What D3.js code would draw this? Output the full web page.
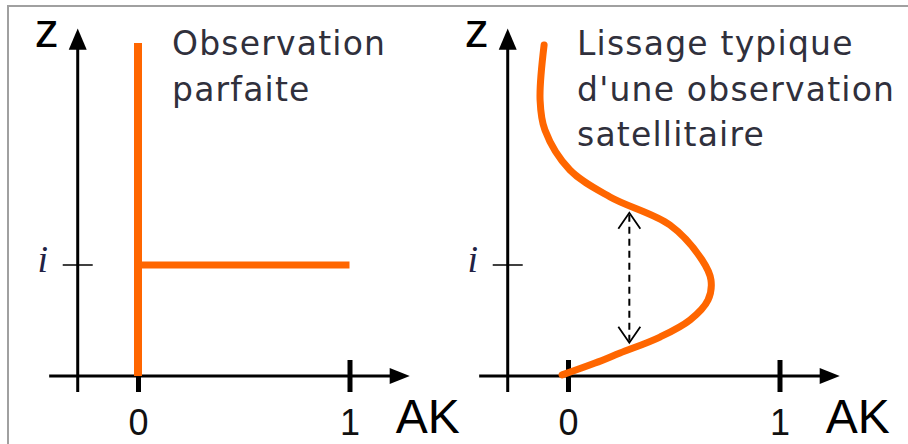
<!DOCTYPE html>
<html>
<head>
<meta charset="utf-8">
<script src="https://cdnjs.cloudflare.com/ajax/libs/d3/7.8.5/d3.min.js"></script>
<style>
  body { margin: 0; background: #fff; }
  svg { display: block; }
</style>
</head>
<body>
<svg width="908" height="444"></svg>
<script>
// ticks on the AK axis and the marked level i
const akTicks = [0, 1];
const levelI = 1;
const levelLabel = "i";

// perfect observation : a single 1 at level i, 0 elsewhere
const perfectVertical = [[0, 0], [0, 3.0]];
const perfectHorizontal = [[0, 1], [1, 1]];

// typical smoothed satellite averaging kernel
const smoothAK = [-0.028, 0.128, 0.246, 0.435, 0.577, 0.662, 0.676, 0.634, 0.482, 0.199, 0.009, -0.109, -0.132, -0.113];
const smoothZ  = [0.01, 0.117, 0.207, 0.351, 0.505, 0.685, 0.865, 1.045, 1.360, 1.613, 1.856, 2.216, 2.486, 2.982];

// vertical extent of the kernel (dashed double arrow)
const spreadAK = 0.29;
const spreadZ = [0.30, 1.47];

const titles = [
  ["Observation", "parfaite"],
  ["Lissage typique", "d'une observation", "satellitaire"]
];

const orange = "#ff6600";
const svg = d3.select("svg");

// frame
svg.append("rect").attr("x", 8).attr("y", 6).attr("width", 920).attr("height", 460)
  .attr("fill", "none").attr("stroke", "#a0a0a0").attr("stroke-width", 2);

const y = d3.scaleLinear().domain([0, 1]).range([376, 265]);
const panelX = [138, 568];

panelX.forEach((x0, p) => {
  const x = d3.scaleLinear().domain([0, 1]).range([x0, x0 + 211.5]);
  const g = svg.append("g");
  const axX = x(-0.285);

  // y axis with arrow
  g.append("line").attr("x1", axX).attr("x2", axX).attr("y1", y(-0.145)).attr("y2", y(2.95))
    .attr("stroke", "#000").attr("stroke-width", 3);
  g.append("path")
    .attr("d", `M${axX},${y(3.13)} L${axX - 9},${y(2.94)} L${axX + 9},${y(2.94)} Z`)
    .attr("fill", "#000");

  // x axis with arrow
  g.append("line").attr("x1", x(-0.42)).attr("x2", x(1.2)).attr("y1", y(0)).attr("y2", y(0))
    .attr("stroke", "#000").attr("stroke-width", 3);
  g.append("path")
    .attr("d", `M${x(1.285)},${y(0)} L${x(1.19)},${y(0) - 8} L${x(1.19)},${y(0) + 8} Z`)
    .attr("fill", "#000");

  // AK ticks through d3 axis
  const ax = g.append("g").attr("transform", `translate(0,${y(0)})`)
    .call(d3.axisBottom(x).tickValues(akTicks).tickSize(0).tickPadding(0).tickFormat(d3.format("d")));
  ax.select(".domain").remove();
  ax.attr("font-size", 36).attr("font-family", "Liberation Sans, Arial, sans-serif");
  ax.selectAll(".tick line").attr("y1", -16).attr("y2", 16).attr("stroke", "#000").attr("stroke-width", 5);
  ax.selectAll(".tick text").attr("dy", null).attr("y", 59).attr("fill", "#111");

  // level i tick
  g.append("line").attr("x1", axX - 15).attr("x2", axX + 15).attr("y1", y(levelI)).attr("y2", y(levelI))
    .attr("stroke", "#000").attr("stroke-width", 1.5);
  g.append("text").attr("x", axX - 35).attr("y", y(levelI) + 7).attr("text-anchor", "middle")
    .attr("font-family", "Liberation Serif, Times New Roman, serif").attr("font-style", "italic")
    .attr("font-size", 38).attr("fill", "#222244").text(levelLabel);

  // axis names
  g.append("text").attr("x", axX - 31).attr("y", 47).attr("text-anchor", "middle")
    .attr("font-family", "Liberation Sans, Arial, sans-serif").attr("font-size", 48).attr("fill", "#000").text("z");
  g.append("text").attr("x", x(1.285) - 14).attr("y", 433)
    .attr("font-family", "Liberation Sans, Arial, sans-serif").attr("font-size", 48).attr("fill", "#000").text("AK");

  // titles
  const tx = p === 0 ? 172 : 577;
  g.append("g").selectAll("text").data(titles[p]).join("text")
    .attr("x", tx).attr("y", (d, k) => 55 + k * 45.5)
    .attr("font-family", "DejaVu Sans, sans-serif").attr("font-size", 33).attr("letter-spacing", 1.2)
    .attr("fill", "#30303c")
    .text(d => d);

  const line = d3.line().x(d => x(d[0])).y(d => y(d[1]));

  if (p === 0) {
    g.append("path").attr("d", line(perfectVertical)).attr("stroke", orange).attr("stroke-width", 8).attr("fill", "none");
    g.append("path").attr("d", line(perfectHorizontal)).attr("stroke", orange).attr("stroke-width", 7).attr("fill", "none");
  } else {
    const pts = smoothAK.map((a, k) => [a, smoothZ[k]]);
    g.append("path").attr("d", line.curve(d3.curveCatmullRom.alpha(0.5))(pts))
      .attr("stroke", orange).attr("stroke-width", 7).attr("fill", "none").attr("stroke-linecap", "round");

    // dashed double arrow
    const sx = x(spreadAK), yTop = y(spreadZ[1]), yBot = y(spreadZ[0]);
    g.append("line").attr("x1", sx).attr("x2", sx).attr("y1", yTop + 2).attr("y2", yBot - 2)
      .attr("stroke", "#000").attr("stroke-width", 2).attr("stroke-dasharray", "7,5");
    g.append("path").attr("d", `M${sx - 11},${yTop + 16} L${sx},${yTop} L${sx + 11},${yTop + 16}`)
      .attr("stroke", "#000").attr("stroke-width", 1.8).attr("fill", "none");
    g.append("path").attr("d", `M${sx - 11},${yBot - 16} L${sx},${yBot} L${sx + 11},${yBot - 16}`)
      .attr("stroke", "#000").attr("stroke-width", 1.8).attr("fill", "none");
  }
});
</script>
</body>
</html>
